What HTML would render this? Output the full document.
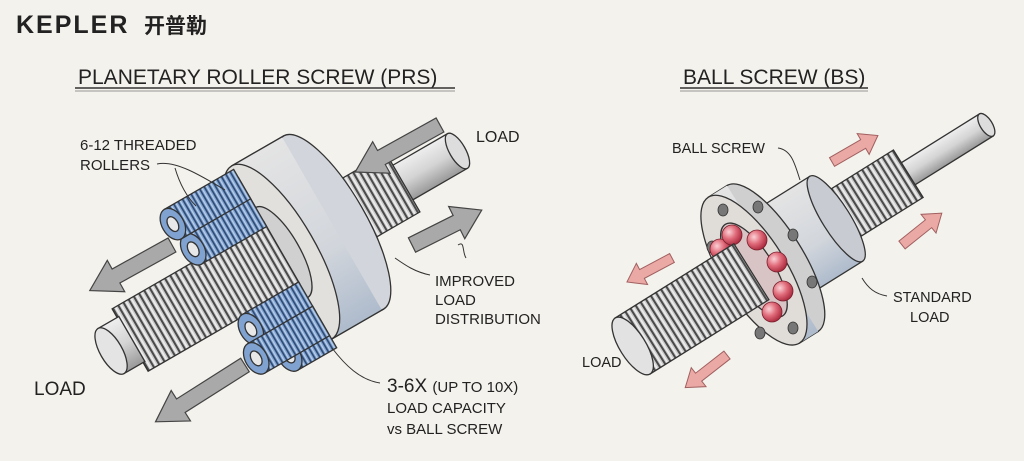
<!DOCTYPE html>
<html><head><meta charset="utf-8"><style>
html,body{margin:0;padding:0;background:#f4f2ec;}
svg{display:block;}
text{font-family:"Liberation Sans","Noto Sans CJK SC",sans-serif;fill:#222;}
</style></head><body>
<svg width="1024" height="461" viewBox="0 0 1024 461" xmlns="http://www.w3.org/2000/svg">
<defs>
<pattern id="thr" width="6" height="10" patternUnits="userSpaceOnUse">
<rect width="6" height="10" fill="#cdcdcd"/><rect x="0" width="2" height="10" fill="#4a4a4a"/><rect x="3" width="1.5" height="10" fill="#eee"/>
</pattern>
<pattern id="bthr" width="5" height="10" patternUnits="userSpaceOnUse">
<rect width="5" height="10" fill="#7fa2d0"/><rect x="0" width="1.6" height="10" fill="#2f4a72"/><rect x="2.5" width="1.2" height="10" fill="#bcd0ea"/>
</pattern>
<linearGradient id="nutg" x1="0" y1="0" x2="0" y2="1">
<stop offset="0" stop-color="#e4e4e4"/><stop offset="0.6" stop-color="#d2d6dc"/><stop offset="1" stop-color="#aebbcc"/>
</linearGradient>
<linearGradient id="shg" x1="0" y1="0" x2="0" y2="1">
<stop offset="0" stop-color="#eee"/><stop offset="0.5" stop-color="#d4d4d4"/><stop offset="1" stop-color="#999"/>
</linearGradient>
<radialGradient id="ball" cx="0.35" cy="0.35" r="0.7">
<stop offset="0" stop-color="#fbd2d6"/><stop offset="0.5" stop-color="#e06b7a"/><stop offset="1" stop-color="#a8283c"/>
</radialGradient>
</defs>
<rect width="1024" height="461" fill="#f4f2ec"/>

<!-- logo -->
<text x="16" y="33" font-size="25" font-weight="bold" letter-spacing="2" style="font-family:'Liberation Sans',sans-serif">KEPLER</text>
<text x="144" y="33" font-size="21" font-weight="bold" style="font-family:'Noto Sans CJK SC',sans-serif">开普勒</text>

<!-- titles -->
<text x="78" y="84" font-size="21">PLANETARY ROLLER SCREW (PRS)</text>
<line x1="75" y1="88" x2="455" y2="88" stroke="#333" stroke-width="1.5"/>
<line x1="75" y1="91" x2="455" y2="91" stroke="#777" stroke-width="0.8"/>
<text x="683" y="84" font-size="21">BALL SCREW (BS)</text>
<line x1="680" y1="88" x2="868" y2="88" stroke="#333" stroke-width="1.5"/>
<line x1="680" y1="91" x2="868" y2="91" stroke="#777" stroke-width="0.8"/>

<!-- PRS -->
<g transform="translate(286,250) rotate(-30)" stroke="#333" stroke-width="1.3">
 <rect x="130" y="-20" width="68" height="40" fill="url(#shg)"/>
 <ellipse cx="198" cy="0" rx="8" ry="20" fill="#ddd"/>
 <rect x="50" y="-34" width="85" height="68" fill="url(#thr)"/>
 <rect x="-5" y="-100" width="60" height="200" fill="url(#nutg)"/>
 <ellipse cx="55" cy="0" rx="32" ry="100" fill="#d2d6dc"/>
 <rect x="-5" y="-100" width="58" height="200" fill="url(#nutg)" stroke="none"/>
 <line x1="-5" y1="-100" x2="55" y2="-100"/><line x1="-5" y1="100" x2="55" y2="100"/>
 <ellipse cx="-5" cy="0" rx="34" ry="100" fill="#e2e0dc"/>
 <ellipse cx="-5" cy="0" rx="18" ry="52" fill="#d0d0d0"/>
 <!-- back rollers -->
 <rect x="-60" y="-86" width="55" height="34" fill="url(#bthr)"/>
 <ellipse cx="-60" cy="-69" rx="11" ry="17" fill="#7fa2d0"/><ellipse cx="-60" cy="-69" rx="5" ry="8" fill="#e8e8e8"/>
 <rect x="-50" y="76" width="45" height="34" fill="url(#bthr)"/>
 <ellipse cx="-50" cy="93" rx="11" ry="17" fill="#7fa2d0"/><ellipse cx="-50" cy="93" rx="5" ry="8" fill="#e8e8e8"/>
 <!-- screw -->
 <rect x="-180" y="-36" width="175" height="72" fill="url(#thr)"/>
 <rect x="-202" y="-26" width="24" height="52" fill="url(#shg)"/>
 <ellipse cx="-202" cy="0" rx="11" ry="26" fill="#e4e4e4"/>
 <!-- front rollers -->
 <rect x="-80" y="-64" width="75" height="34" fill="url(#bthr)"/>
 <ellipse cx="-80" cy="-47" rx="11" ry="17" fill="#7fa2d0"/><ellipse cx="-80" cy="-47" rx="5" ry="8" fill="#e8e8e8"/>
 <rect x="-85" y="-96" width="80" height="34" fill="url(#bthr)"/>
 <ellipse cx="-85" cy="-79" rx="11" ry="17" fill="#7fa2d0"/><ellipse cx="-85" cy="-79" rx="5" ry="8" fill="#e8e8e8"/>
 <rect x="-70" y="34" width="65" height="34" fill="url(#bthr)"/>
 <ellipse cx="-70" cy="51" rx="11" ry="17" fill="#7fa2d0"/><ellipse cx="-70" cy="51" rx="5" ry="8" fill="#e8e8e8"/>
 <rect x="-80" y="62" width="75" height="34" fill="url(#bthr)"/>
 <ellipse cx="-80" cy="79" rx="11" ry="17" fill="#7fa2d0"/><ellipse cx="-80" cy="79" rx="5" ry="8" fill="#e8e8e8"/>
</g>

<!-- grey arrows -->
<g fill="#a9a9a9" stroke="#444" stroke-width="1.2">
 <polygon transform="translate(440,125) rotate(151)" points="0,-8 67,-8 67,-18 97,0 67,18 67,8 0,8"/>
 <polygon transform="translate(412,245) rotate(-26.6)" points="0,-8 50,-8 50,-18 78,0 50,18 50,8 0,8"/>
 <polygon transform="translate(172,245) rotate(151)" points="0,-8 64,-8 64,-18 94,0 64,18 64,8 0,8"/>
 <polygon transform="translate(245,365) rotate(147.6)" points="0,-8 76,-8 76,-18 106,0 76,18 76,8 0,8"/>
</g>

<!-- PRS labels -->
<g font-size="15">
<text x="80" y="150">6-12 THREADED</text>
<text x="80" y="170">ROLLERS</text>
<text x="476" y="142" font-size="16">LOAD</text>
<text x="435" y="286">IMPROVED</text>
<text x="435" y="305">LOAD</text>
<text x="435" y="324">DISTRIBUTION</text>
<text x="34" y="395" font-size="19">LOAD</text>
<text x="387" y="392" font-size="19">3-6X <tspan font-size="15">(UP TO 10X)</tspan></text>
<text x="387" y="413">LOAD CAPACITY</text>
<text x="387" y="434">vs BALL SCREW</text>
</g>
<g fill="none" stroke="#333" stroke-width="1">
<path d="M157,164 C175,160 200,175 225,190"/>
<path d="M175,168 C180,185 188,198 196,206"/>
<path d="M430,275 C415,272 405,265 395,258"/>
<path d="M458,245 C465,240 462,252 466,258" />
<path d="M380,383 C360,380 345,365 332,348"/>
</g>

<!-- Ball screw -->
<g transform="translate(815,232) rotate(-32)" stroke="#333" stroke-width="1.3">
 <rect x="80" y="-13" width="122" height="26" fill="url(#shg)"/>
 <ellipse cx="202" cy="0" rx="6" ry="13" fill="#ddd"/>
 <rect x="10" y="-28" width="100" height="56" fill="url(#thr)"/>
 <rect x="-60" y="-50" width="85" height="100" fill="url(#nutg)"/>
 <ellipse cx="25" cy="0" rx="14" ry="50" fill="#c8ccd2"/>
 <rect x="-72" y="-86" width="22" height="172" fill="url(#nutg)"/>
 <ellipse cx="-50" cy="0" rx="30" ry="86" fill="#cfcfcf"/>
 <rect x="-72" y="-86" width="22" height="172" fill="url(#nutg)" stroke="none"/>
 <ellipse cx="-72" cy="0" rx="32" ry="86" fill="#e0dcd8"/>
 <ellipse cx="-72" cy="0" rx="20" ry="54" fill="#d8c4c4"/>
</g>
<g fill="#777" stroke="#333" stroke-width="0.8">
 <ellipse cx="723" cy="210" rx="5" ry="6"/><ellipse cx="758" cy="207" rx="5" ry="6"/>
 <ellipse cx="793" cy="235" rx="5" ry="6"/><ellipse cx="812" cy="282" rx="5" ry="6"/>
 <ellipse cx="793" cy="328" rx="5" ry="6"/><ellipse cx="760" cy="333" rx="5" ry="6"/>
 <ellipse cx="712" cy="247" rx="5" ry="6"/>
</g>
<g stroke="#7a1f2c" stroke-width="0.8" fill="url(#ball)">
 <circle cx="720" cy="249" r="10"/><circle cx="732" cy="235" r="10"/><circle cx="757" cy="240" r="10"/>
 <circle cx="777" cy="262" r="10"/><circle cx="783" cy="291" r="10"/><circle cx="772" cy="312" r="10"/>
</g>
<g transform="translate(815,232) rotate(-32)" stroke="#333" stroke-width="1.3">
 <rect x="-215" y="-33" width="140" height="66" fill="url(#thr)"/>
 <ellipse cx="-215" cy="0" rx="13" ry="33" fill="#e2e2e2"/>
</g>

<!-- pink arrows -->
<g fill="#eba9a6" stroke="#a06060" stroke-width="1">
 <polygon transform="translate(832,162) rotate(-30)" points="0,-5 36,-5 36,-12 53,0 36,12 36,5 0,5"/>
 <polygon transform="translate(902,245) rotate(-38.7)" points="0,-5 34,-5 34,-12 51,0 34,12 34,5 0,5"/>
 <polygon transform="translate(672,258) rotate(152)" points="0,-5 34,-5 34,-12 51,0 34,12 34,5 0,5"/>
 <polygon transform="translate(727,355) rotate(142)" points="0,-5 36,-5 36,-12 53,0 36,12 36,5 0,5"/>
</g>

<g font-size="14.5">
<text x="672" y="153">BALL SCREW</text>
<text x="893" y="302">STANDARD</text>
<text x="910" y="322">LOAD</text>
<text x="582" y="367">LOAD</text>
</g>
<g fill="none" stroke="#333" stroke-width="1">
<path d="M778,148 C792,150 795,165 800,180"/>
<path d="M887,296 C875,294 868,288 862,278"/>
</g>
</svg>
</body></html>
